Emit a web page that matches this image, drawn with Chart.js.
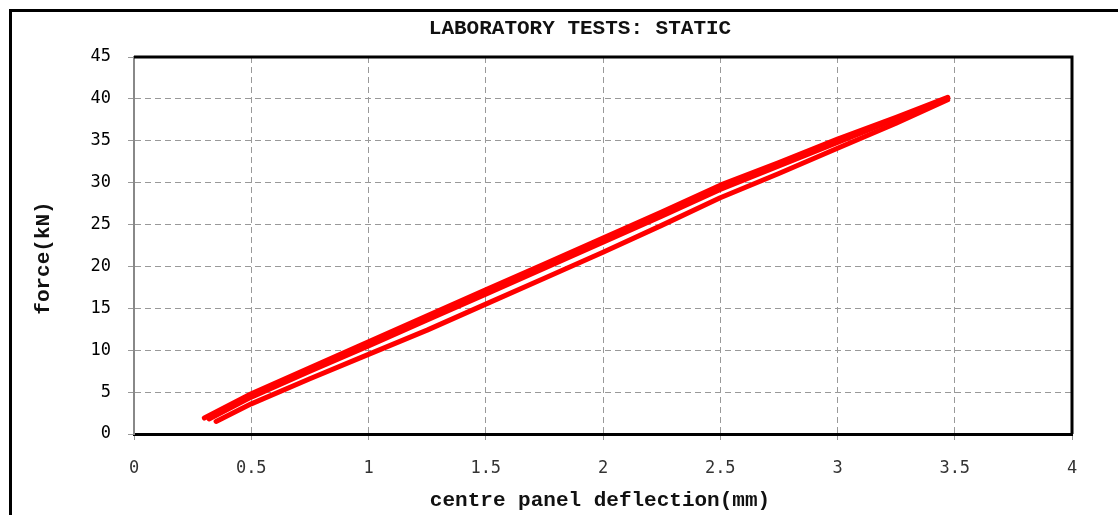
<!DOCTYPE html>
<html>
<head>
<meta charset="utf-8">
<title>Laboratory tests: static</title>
<script src="https://cdn.jsdelivr.net/npm/chart.js@4/dist/chart.umd.min.js"></script>
<style>
  html, body { margin: 0; padding: 0; background: #fff; overflow: hidden; }
  #wrap { position: relative; width: 1118px; height: 515px; }
  /* outer frame, only top and left edges are inside the window */
  #frame { position: absolute; left: 9px; top: 9px; width: 1200px; height: 600px;
           border-top: 3px solid #000; border-left: 3px solid #000; pointer-events: none; }
</style>
</head>
<body>
<div id="wrap">
  <canvas id="staticChart"></canvas>
  <div id="frame"></div>
</div>
<script>
//============ data: force vs centre panel deflection ============
const titleText = "LABORATORY TESTS: STATIC";
const xTitle = "centre panel deflection(mm)";
const yTitle = "force(kN)";

// first loading run (lowest curve)
const deflLoad1 = [0.35, 0.5, 0.75, 1.0, 1.25, 1.5, 1.75, 2.0, 2.25, 2.5, 2.75, 3.0, 3.25, 3.47];
const forceLoad1 = [1.5, 3.6, 6.6, 9.5, 12.4, 15.5, 18.6, 21.7, 24.9, 28.2, 31.1, 34.1, 37.1, 39.9];
// second loading run (middle curve)
const deflLoad2 = [0.32, 0.5, 0.75, 1.0, 1.25, 1.5, 1.75, 2.0, 2.25, 2.5, 2.75, 3.0, 3.25, 3.47];
const forceLoad2 = [1.8, 4.4, 7.5, 10.5, 13.6, 16.7, 19.8, 22.9, 26.0, 29.2, 32.0, 34.8, 37.6, 40.1];
// unloading (top curve)
const deflUnload = [0.30, 0.5, 0.75, 1.0, 1.25, 1.5, 1.75, 2.0, 2.25, 2.5, 2.75, 3.0, 3.25, 3.47];
const forceUnload = [1.9, 4.8, 7.9, 11.0, 14.1, 17.2, 20.3, 23.4, 26.5, 29.7, 32.4, 35.2, 37.8, 40.2];

// axis ranges
const xMin = 0, xMax = 4, xStep = 0.5;
const yMin = 0, yMax = 45, yStep = 5;

function toPoints(xs, ys) {
  return xs.map((x, i) => ({ x: x, y: ys[i] }));
}

function lineSet(label, xs, ys) {
  return {
    label: label,
    data: toPoints(xs, ys),
    showLine: true,
    borderColor: "#ff0000",
    backgroundColor: "#ff0000",
    borderWidth: 5,
    borderCapStyle: "round",
    borderJoinStyle: "round",
    pointRadius: 0,
    tension: 0,
    fill: false,
  };
}

// black frame on top and right of the plot, plus the text labels
const framePlugin = {
  id: "frameAndText",
  afterDraw(chart) {
    const { ctx, chartArea } = chart;
    ctx.save();
    ctx.strokeStyle = "#000";
    ctx.lineWidth = 3;
    ctx.beginPath();
    ctx.moveTo(chartArea.left, chartArea.top);
    ctx.lineTo(chartArea.right, chartArea.top);
    ctx.lineTo(chartArea.right, chartArea.bottom);
    ctx.stroke();

    ctx.fillStyle = "#111";
    ctx.textAlign = "center";
    ctx.textBaseline = "middle";
    ctx.font = "bold 21px 'Liberation Mono', monospace";
    ctx.fillText(titleText, 580, 29);

    ctx.fillText(xTitle, 600, 501);

    ctx.translate(44, 258);
    ctx.rotate(-Math.PI / 2);
    ctx.fillText(yTitle, 0, 0);
    ctx.restore();
  },
};

const config = {
  type: "scatter",
  data: {
    datasets: [
      lineSet("load 1", deflLoad1, forceLoad1),
      lineSet("load 2", deflLoad2, forceLoad2),
      lineSet("unload", deflUnload, forceUnload),
    ],
  },
  options: {
    responsive: true,
    maintainAspectRatio: false,
    animation: false,
    layout: {
      padding: { top: 57, right: 46, left: 0, bottom: 0 },
    },
    plugins: {
      legend: { display: false },
      tooltip: { enabled: false },
      title: { display: false },
    },
    scales: {
      x: {
        type: "linear",
        min: xMin,
        max: xMax,
        afterFit: (s) => { s.height = 81; },
        ticks: {
          stepSize: xStep,
          padding: 18,
          color: "#333",
          font: { family: "'DejaVu Sans Mono', monospace", size: 17 },
          maxRotation: 0,
          callback: (v) => String(v),
        },
        grid: { color: "#999", lineWidth: 1, tickLength: 6, tickColor: "#999" },
        border: { color: "#000", width: 3, dash: [6, 4] },
      },
      y: {
        type: "linear",
        min: yMin,
        max: yMax,
        afterFit: (s) => { s.width = 134; },
        ticks: {
          stepSize: yStep,
          padding: 17,
          color: "#000",
          font: { family: "'DejaVu Sans Mono', monospace", size: 17 },
        },
        grid: { color: "#999", lineWidth: 1, tickLength: 6, tickColor: "#999" },
        border: { color: "#888", width: 2, dash: [6, 4] },
      },
    },
  },
  plugins: [framePlugin],
};

let staticChart = new Chart(document.getElementById("staticChart"), config);
</script>
</body>
</html>
